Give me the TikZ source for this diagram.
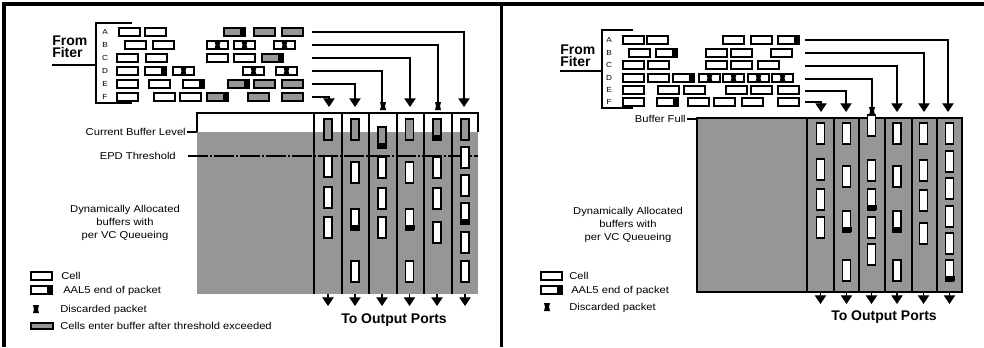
\documentclass[tikz,border=0pt]{standalone}
\usepackage{fontspec}
\setmainfont{Liberation Sans}
\newfontfamily\smallfont[FakeStretch=1.12]{Liberation Sans}
\usetikzlibrary{arrows.meta}
\definecolor{bufgray}{RGB}{150,150,150}

\tikzset{
  frame/.style={line width=2.3pt},
  cellline/.style={line width=0.9pt},
  conn/.style={line width=0.9pt},
  flow/.style={conn, -{Triangle[width=8.5pt,length=6.5pt]}},
  divider/.style={line width=0.9pt},
  lbl/.style={font=\smallfont\fontsize{7.5}{10}\selectfont, inner sep=0pt},
  rowlbl/.style={font=\smallfont\fontsize{5.5}{6}\selectfont, inner sep=0pt},
  big/.style={font=\bfseries\fontsize{10.5}{11}\selectfont, inner sep=0pt},
  pics/dropmark/.style={code={
    \fill (-3,-4) -- (3,-4) -- (2,0) -- (3,4) -- (-3,4) -- (-2,0) -- cycle;}},
}

% horizontal cells: left x, centre y
\newcommand\hcW[2]{\filldraw[cellline,fill=white] (#1,#2-4) rectangle ++(21,8);}
\newcommand\hcG[2]{\filldraw[cellline,fill=bufgray] (#1,#2-4) rectangle ++(21,8);}
\newcommand\hcWE[2]{\hcW{#1}{#2}\fill (#1+16,#2-4.5) rectangle ++(5.5,9);}
\newcommand\hcGE[2]{\hcG{#1}{#2}\fill (#1+16,#2-4.5) rectangle ++(5.5,9);}
\newcommand\hcWX[2]{\hcW{#1}{#2}\pic at (#1+10.5,#2) {dropmark};}
% vertical cells: centre x, top y
\newcommand\vcW[2]{\filldraw[cellline,fill=white] (#1-4,#2) rectangle ++(8,21);}
\newcommand\vcG[2]{\filldraw[cellline,fill=bufgray] (#1-4,#2) rectangle ++(8,21);}
\newcommand\vcWE[2]{\vcW{#1}{#2}\fill (#1-5,#2+16) rectangle ++(10,5);}
\newcommand\vcGE[2]{\vcG{#1}{#2}\fill (#1-5,#2+16) rectangle ++(10,5);}

\begin{document}
\begin{tikzpicture}[x=0.75pt,y=-0.75pt]
\useasboundingbox (0,0) rectangle (984,347);

% outer frame and panel divider
\draw[frame] (4,347) -- (4,4) -- (984,4);
\draw[frame] (501.5,4) -- (501.5,347);

%================ LEFT PANEL: EPD =================
\node[big, anchor=base west] (lfrom) at (52,45) {From};
\node[big, anchor=base west] (lfib) at (52,57) {Fiter};
\draw[conn] (52,65) -- (96,65);
\draw[conn] (132,23) -- (96,23) -- (96,103) -- (132,103);
\foreach \r/\y in {A/32,B/45,C/58,D/71,E/84,F/97}
  \node[rowlbl] (lr\r) at (105,\y) {\r};

% incoming cells per VC
\foreach \t/\x in {W/119,W/145,GE/224,G/254,G/282} {\csname hc\t\endcsname{\x}{32}}
\foreach \t/\x in {W/125,W/153,WX/207,WX/234,WX/274} {\csname hc\t\endcsname{\x}{45}}
\foreach \t/\x in {W/117,W/146,W/207,W/234,GE/262} {\csname hc\t\endcsname{\x}{58}}
\foreach \t/\x in {W/117,WE/145,WX/173,WX/243,WX/276} {\csname hc\t\endcsname{\x}{71}}
\foreach \t/\x in {W/117,W/149,WE/183,GE/228,G/254,G/282} {\csname hc\t\endcsname{\x}{84}}
\foreach \t/\x in {W/117,W/154,W/180,GE/207,G/248,G/282} {\csname hc\t\endcsname{\x}{97}}

% shared buffer
\fill[bufgray] (197,132) rectangle (478,294);
\draw[cellline] (197,132) -- (197,113) -- (478,113) -- (478,132);
\foreach \x in {314,342,369,397,424,452} \draw[divider] (\x,113) -- (\x,294);
\node[lbl, anchor=east] (lcur) at (186,132) {Current Buffer Level};
\draw[conn] ([xshift=1pt]lcur.east) -- (197,132);
\node[lbl, anchor=east] (lepd) at (176,156) {EPD Threshold};
\draw[conn, dash pattern=on 15pt off 1.5pt on 1.5pt off 1.5pt] ([xshift=9pt]lepd.east) -- (478,156);
\node[lbl, align=center] (ldyn) at (125,223) {Dynamically Allocated\\buffers with\\per VC Queueing};

% queued cells per output column
\foreach \t/\y in {G/119,W/156,W/187,W/217} {\csname vc\t\endcsname{328}{\y}}
\foreach \t/\y in {G/119,W/162,WE/209,W/261} {\csname vc\t\endcsname{355}{\y}}
\foreach \t/\y in {GE/127,W/157,W/188,W/217} {\csname vc\t\endcsname{382}{\y}}
\foreach \t/\y in {G/119,W/162,WE/209,W/261} {\csname vc\t\endcsname{409.5}{\y}}
\foreach \t/\y in {GE/119,W/157,W/188,W/222} {\csname vc\t\endcsname{437}{\y}}
\foreach \t/\y in {G/119,W/147,W/175,WE/203,W/232,W/261} {\csname vc\t\endcsname{465}{\y}}

% VC to output column connectors
\foreach \r/\y in {A/32,B/45,C/58,D/71,E/84,F/97} \coordinate (L\r) at (312,\y);
\coordinate (Lt1) at (329,107);
\coordinate (Lt2) at (355,107);
\coordinate (Lt3) at (382,102);
\coordinate (Lt4) at (410,107);
\coordinate (Lt5) at (438,102);
\coordinate (Lt6) at (464,107);
\draw[flow] (LA) -| (Lt6);
\draw[conn] (LB) -| (Lt5);
\draw[flow] (LC) -| (Lt4);
\draw[conn] (LD) -| (Lt3);
\draw[flow] (LE) -| (Lt2);
\draw[flow] (LF) -| (Lt1);
\pic at (438,106) {dropmark};
\pic at (383,106) {dropmark};

\foreach \c [count=\i] in {328,355,382,409.5,437,465} {
  \coordinate (Lbot\i) at (\c,294);
  \coordinate (Lout\i) at (\c,306);
  \draw[flow] (Lbot\i) -- (Lout\i);
}
\node[big] (lports) at (394,320) {To Output Ports};

% legend
\hcW{31}{276}
\node[lbl, anchor=base west] (lk1) at (61,279.5) {Cell};
\hcWE{31}{290}
\node[lbl, anchor=base west] (lk2) at (63,293.5) {AAL5 end of packet};
\pic at (36,309) {dropmark};
\node[lbl, anchor=base west] (lk3) at (60,312.5) {Discarded packet};
\filldraw[cellline,fill=bufgray] (31,323) rectangle (53,329);
\node[lbl, anchor=base west] (lk4) at (60,329.5) {Cells enter buffer after threshold exceeded};

%================ RIGHT PANEL: buffer full =================
\node[big, anchor=base west] (rfrom) at (560,54) {From};
\node[big, anchor=base west] (rfib) at (560,66) {Fiter};
\draw[conn] (560,71) -- (602,71);
\draw[conn] (633,30) -- (602,30) -- (602,108) -- (633,108);
\foreach \r/\y in {A/40,B/53,C/65,D/78,E/90,F/102}
  \node[rowlbl] (rr\r) at (609,\y) {\r};

\foreach \t/\x in {W/623,W/647,W/723,W/751,WE/778} {\csname hc\t\endcsname{\x}{40}}
\foreach \t/\x in {W/629,WE/656,W/706,W/731,W/771} {\csname hc\t\endcsname{\x}{53}}
\foreach \t/\x in {W/623,W/648,W/706,W/731,W/758} {\csname hc\t\endcsname{\x}{65}}
\foreach \t/\x in {W/623,W/648,WE/673,WX/699,WX/723,WX/748,WX/772} {\csname hc\t\endcsname{\x}{78}}
\foreach \t/\x in {W/623,W/658,W/684,W/726,W/751,W/778} {\csname hc\t\endcsname{\x}{90}}
\foreach \t/\x in {W/623,WE/657,W/688,W/714,W/742,W/778} {\csname hc\t\endcsname{\x}{102}}

% full buffer
\filldraw[cellline, fill=bufgray] (697,118) rectangle (962,292);
\foreach \x in {807,834,859,885,912,937} \draw[divider] (\x,118) -- (\x,292);
\node[lbl, anchor=east] (rfull) at (686,119) {Buffer Full};
\draw[conn] ([xshift=1pt]rfull.east) -- (697,119);
\node[lbl, align=center] (rdyn) at (628,225) {Dynamically Allocated\\buffers with\\per VC Queueing};

\foreach \y in {123,159,189,217} {\vcW{820.5}{\y}}
\foreach \t/\y in {W/123,W/166,WE/211,W/260} {\csname vc\t\endcsname{846.5}{\y}}
\foreach \t/\y in {W/115,W/160,WE/189,W/217,W/244} {\csname vc\t\endcsname{871.5}{\y}}
\foreach \t/\y in {W/123,W/166,WE/211,W/260} {\csname vc\t\endcsname{897}{\y}}
\foreach \y in {123,160,190,223} {\vcW{923.5}{\y}}
\foreach \t/\y in {W/123,W/151,W/178,W/206,W/233,WE/260} {\csname vc\t\endcsname{949.5}{\y}}

\foreach \r/\y in {A/40,B/53,C/66,D/79,E/91,F/102} \coordinate (R\r) at (805,\y);
\coordinate (Rt1) at (821,112);
\coordinate (Rt2) at (846,112);
\coordinate (Rt3) at (872,107);
\coordinate (Rt4) at (897,112);
\coordinate (Rt5) at (924,112);
\coordinate (Rt6) at (948,112);
\draw[flow] (RA) -| (Rt6);
\draw[flow] (RB) -| (Rt5);
\draw[flow] (RC) -| (Rt4);
\draw[conn] (RD) -| (Rt3);
\draw[flow] (RE) -| (Rt2);
\draw[flow] (RF) -| (Rt1);
\pic at (872,111) {dropmark};

\foreach \c [count=\i] in {820.5,846.5,871.5,897,923.5,949.5} {
  \coordinate (Rbot\i) at (\c,292);
  \coordinate (Rout\i) at (\c,304);
  \draw[flow] (Rbot\i) -- (Rout\i);
}
\node[big] (rports) at (884,317) {To Output Ports};

\hcW{541}{276}
\node[lbl, anchor=base west] (rk1) at (569,279.5) {Cell};
\hcWE{541}{290}
\node[lbl, anchor=base west] (rk2) at (571,293.5) {AAL5 end of packet};
\pic at (547,307) {dropmark};
\node[lbl, anchor=base west] (rk3) at (569,310.5) {Discarded packet};
\end{tikzpicture}
\end{document}
